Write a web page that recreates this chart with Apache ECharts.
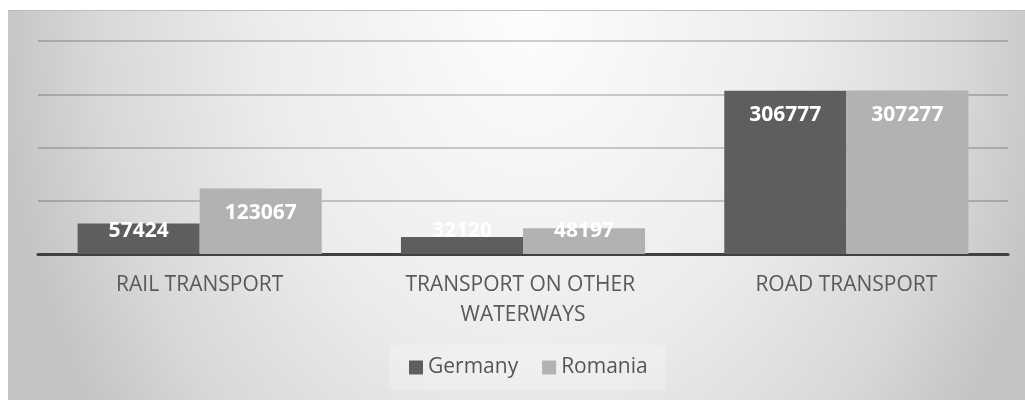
<!DOCTYPE html>
<html>
<head>
<meta charset="utf-8">
<script src="https://cdn.jsdelivr.net/npm/echarts@6/dist/echarts.min.js"></script>
<style>
  html, body { margin: 0; padding: 0; background: #ffffff; }
  #wrap { position: relative; width: 1025px; height: 400px; }
  #bg {
    position: absolute; left: 8px; top: 10px; width: 1017px; height: 390px;
    box-sizing: border-box; border-top: 1px solid #bdbdbd;
    background: radial-gradient(ellipse 540px 700px at 522px 0px, #fdfdfd 0%, #ececec 50%, #d8d8d8 80%, #c3c3c3 100%);
  }
  #chart { position: absolute; left: 0; top: 0; width: 1025px; height: 400px; }
</style>
</head>
<body>
<div id="wrap">
  <div id="bg"></div>
  <div id="chart"></div>
</div>
<script>
const categories = ['RAIL TRANSPORT', 'TRANSPORT ON OTHER WATERWAYS', 'ROAD TRANSPORT'];
const seriesNames = ['Germany', 'Romania'];
const germany = [57424, 32120, 306777];
const romania = [123067, 48197, 307277];
const yTicks = [0, 100000, 200000, 300000, 400000];

const colors = { Germany: '#5e5e5e', Romania: '#b2b2b2' };
const FONT = '"Open Sans", "DejaVu Sans", sans-serif';

function labelled(values) {
  return values.map(v => ({
    value: v,
    label: v < 100000
      ? { position: 'insideBottom', distance: 12 }
      : { position: 'insideTop', distance: 14 }
  }));
}

const chart = echarts.init(document.getElementById('chart'), null, { renderer: 'canvas' });
chart.setOption({
  backgroundColor: 'transparent',
  animation: false,
  textStyle: { fontFamily: FONT },
  grid: { left: 38, right: 17, top: 41, bottom: 146, containLabel: false },
  legend: {
    data: seriesNames,
    bottom: 10,
    left: 389,
    itemWidth: 14,
    itemHeight: 14,
    itemGap: 24,
    icon: 'rect',
    padding: [12, 18, 12, 20],
    backgroundColor: 'rgba(255,255,255,0.22)',
    textStyle: { fontFamily: FONT, fontSize: 21, color: '#555555' }
  },
  xAxis: {
    type: 'category',
    data: categories,
    axisTick: { show: false },
    axisLine: { show: true, lineStyle: { color: '#404040', width: 3 } },
    axisLabel: {
      fontFamily: FONT,
      fontSize: 21,
      color: '#595959',
      lineHeight: 30,
      margin: 16,
      width: 250,
      overflow: 'break',
      interval: 0
    }
  },
  yAxis: {
    type: 'value',
    min: yTicks[0],
    max: yTicks[yTicks.length - 1],
    interval: yTicks[1] - yTicks[0],
    axisLabel: { show: false },
    axisLine: { show: false },
    axisTick: { show: false },
    splitLine: { show: true, lineStyle: { color: 'rgba(0,0,0,0.19)', width: 2 } }
  },
  series: [
    {
      name: seriesNames[0], type: 'bar', data: labelled(germany),
      barGap: '0%', barCategoryGap: '24.5%',
      itemStyle: { color: colors.Germany },
      label: { show: true, color: '#ffffff', fontFamily: FONT, fontWeight: 'bold', fontSize: 21 }
    },
    {
      name: seriesNames[1], type: 'bar', data: labelled(romania),
      barGap: '0%', barCategoryGap: '24.5%',
      itemStyle: { color: colors.Romania },
      label: { show: true, color: '#ffffff', fontFamily: FONT, fontWeight: 'bold', fontSize: 21 }
    }
  ]
});
</script>
</body>
</html>
